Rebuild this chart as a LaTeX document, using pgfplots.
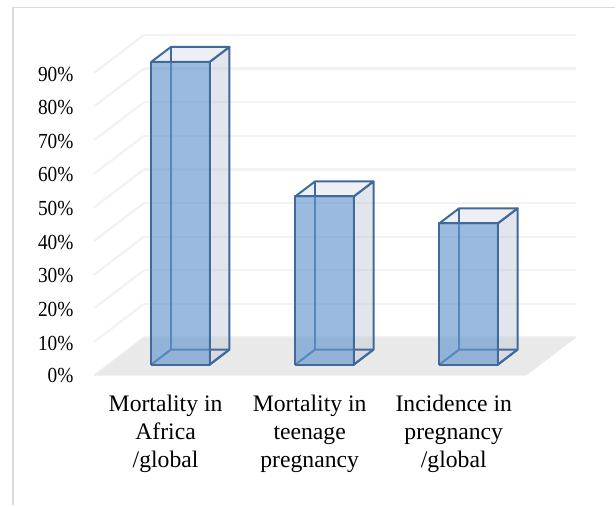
\documentclass[border=0pt]{standalone}
\usepackage{fontspec}
\setmainfont{Liberation Serif}
\newfontfamily\tickfont[FakeStretch=0.9]{Liberation Serif}
\usepackage{pgfplots}
\pgfplotsset{compat=1.18}
\definecolor{framegray}{HTML}{D9D9D9}
\definecolor{gridgray}{HTML}{F2F2F2}
\definecolor{floorgray}{HTML}{E9E9E9}
\definecolor{edgeblue}{HTML}{41699B}
\definecolor{frontblue}{HTML}{6497CE}
\definecolor{sidegray}{HTML}{C5CED9}
\definecolor{topgray}{HTML}{DDDFE9}
\pgfplotsset{
  sideface/.style={draw=edgeblue,line width=2pt,line join=round,fill=sidegray,fill opacity=0.5,draw opacity=1,mark=none},
  topface/.style={draw=edgeblue,line width=2pt,line join=round,fill=topgray,fill opacity=0.5,draw opacity=1,mark=none},
  backedge/.style={draw=edgeblue,line width=2pt,line join=round,mark=none},
  frontface/.style={draw=edgeblue,line width=2pt,line join=round,fill=frontblue,fill opacity=0.65,draw opacity=1,mark=none},
}
\begin{document}
\begin{tikzpicture}
\begin{axis}[
  x={(144.25pt,0pt)},y={(50pt,38pt)},z={(0pt,3.367pt)},
  xmin=-0.5,xmax=2.5,ymin=0,ymax=1,zmin=0,zmax=90,
  clip=false,
  axis line style={draw=none},
  tick style={draw=none},
  xtick={0,1,2},
  xticklabels={{Mortality in\\Africa\\/global},{Mortality in\\teenage\\pregnancy},{Incidence in\\pregnancy\\/global}},
  x tick label style={align=center,font=\fontsize{23.7}{27.9}\selectfont,yshift=-16.5pt,xshift=20.5pt},
  ytick=\empty,
  ztick={0,10,20,30,40,50,60,70,80,90},
  zticklabels={0\%,10\%,20\%,30\%,40\%,50\%,60\%,70\%,80\%,90\%},
  z tick label style={font=\fontsize{21.5}{24}\tickfont,xshift=-17pt,yshift=6pt},
  zmajorgrids,
  major grid style={draw=gridgray,line width=2.2pt},
]
% page box and the two chart-area edges that show
\path (axis cs:-1.1525,0,-38.61) rectangle (axis cs:3.1179,0,111.67);
\draw[framegray,line width=1.5pt] (axis cs:-1.0624,0,-38.61) -- (axis cs:-1.0624,0,109.4) -- (axis cs:3.1179,0,109.4);

% floor
\addplot3[draw=none,fill=floorgray,mark=none] coordinates {(-0.5,0,0) (2.5,0,0) (2.5,1,0) (-0.5,1,0) (-0.5,0,0)};

% bar 1: 90
\addplot3[sideface] coordinates {(0.203,0.29,0) (0.203,0.684,0) (0.203,0.684,90) (0.203,0.29,90) (0.203,0.29,0)};
\addplot3[topface] coordinates {(-0.203,0.29,90) (0.203,0.29,90) (0.203,0.684,90) (-0.203,0.684,90) (-0.203,0.29,90)};
\addplot3[backedge] coordinates {(-0.203,0.29,0) (-0.203,0.684,0) (0.203,0.684,0)};
\addplot3[backedge] coordinates {(-0.203,0.684,0) (-0.203,0.684,90)};
\addplot3[backedge] coordinates {(0.203,0.29,0) (0.203,0.684,0)};
\addplot3[frontface] coordinates {(-0.203,0.29,0) (0.203,0.29,0) (0.203,0.29,90) (-0.203,0.29,90) (-0.203,0.29,0)};

% bar 2: 50
\addplot3[sideface] coordinates {(1.203,0.29,0) (1.203,0.684,0) (1.203,0.684,50) (1.203,0.29,50) (1.203,0.29,0)};
\addplot3[topface] coordinates {(0.797,0.29,50) (1.203,0.29,50) (1.203,0.684,50) (0.797,0.684,50) (0.797,0.29,50)};
\addplot3[backedge] coordinates {(0.797,0.29,0) (0.797,0.684,0) (1.203,0.684,0)};
\addplot3[backedge] coordinates {(0.797,0.684,0) (0.797,0.684,50)};
\addplot3[backedge] coordinates {(1.203,0.29,0) (1.203,0.684,0)};
\addplot3[frontface] coordinates {(0.797,0.29,0) (1.203,0.29,0) (1.203,0.29,50) (0.797,0.29,50) (0.797,0.29,0)};

% bar 3: 42
\addplot3[sideface] coordinates {(2.203,0.29,0) (2.203,0.684,0) (2.203,0.684,42) (2.203,0.29,42) (2.203,0.29,0)};
\addplot3[topface] coordinates {(1.797,0.29,42) (2.203,0.29,42) (2.203,0.684,42) (1.797,0.684,42) (1.797,0.29,42)};
\addplot3[backedge] coordinates {(1.797,0.29,0) (1.797,0.684,0) (2.203,0.684,0)};
\addplot3[backedge] coordinates {(1.797,0.684,0) (1.797,0.684,42)};
\addplot3[backedge] coordinates {(2.203,0.29,0) (2.203,0.684,0)};
\addplot3[frontface] coordinates {(1.797,0.29,0) (2.203,0.29,0) (2.203,0.29,42) (1.797,0.29,42) (1.797,0.29,0)};
\end{axis}
\end{tikzpicture}
\end{document}
